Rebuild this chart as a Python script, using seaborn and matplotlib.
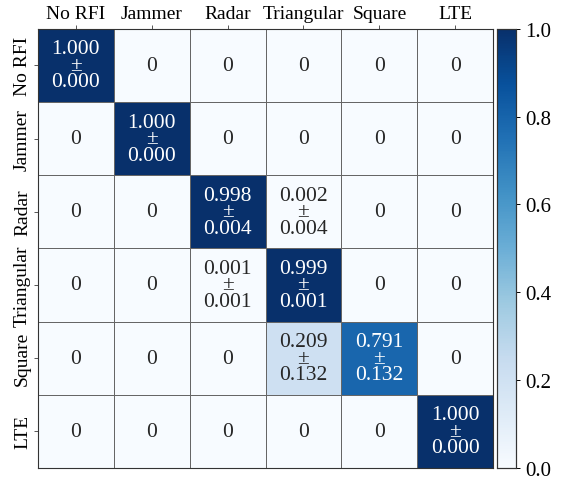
import numpy as np
import pandas as pd
import seaborn as sns
import matplotlib.pyplot as plt

classes = ["No RFI", "Jammer", "Radar", "Triangular", "Square", "LTE"]

# mean of normalized confusion matrix (rows = true, cols = predicted)
means = np.array([
    [1.000, 0, 0, 0, 0, 0],
    [0, 1.000, 0, 0, 0, 0],
    [0, 0, 0.998, 0.002, 0, 0],
    [0, 0, 0.001, 0.999, 0, 0],
    [0, 0, 0, 0.209, 0.791, 0],
    [0, 0, 0, 0, 0, 1.000],
])
stds = np.array([
    [0.000, 0, 0, 0, 0, 0],
    [0, 0.000, 0, 0, 0, 0],
    [0, 0, 0.004, 0.004, 0, 0],
    [0, 0, 0.001, 0.001, 0, 0],
    [0, 0, 0, 0.132, 0.132, 0],
    [0, 0, 0, 0, 0, 0.000],
])

labels = np.empty(means.shape, dtype=object)
for i in range(means.shape[0]):
    for j in range(means.shape[1]):
        if means[i, j] > 0:
            labels[i, j] = f"{means[i, j]:.3f}\n±\n{stds[i, j]:.3f}"
        else:
            labels[i, j] = "0"

df = pd.DataFrame(means, index=classes, columns=classes)

plt.rcParams['font.family'] = ['Liberation Serif', 'DejaVu Serif']
plt.rcParams['font.size'] = 14

fig = plt.figure(figsize=(5.65, 4.89), dpi=100)
ax = fig.add_axes([0.067, 0.041, 0.806, 0.898])
cax = fig.add_axes([0.880, 0.041, 0.033, 0.898])

sns.heatmap(df, ax=ax, cbar_ax=cax, cmap="Blues", vmin=0, vmax=1,
            annot=labels, fmt="", linewidths=0.7, linecolor="#666666",
            annot_kws={"fontsize": 15.5, "linespacing": 0.82})

ax.xaxis.tick_top()
ax.set_xticklabels(classes, rotation=0, fontsize=14)
ax.set_yticklabels(classes, rotation=90, va="center", fontsize=14)
ax.tick_params(length=3, width=0.7, pad=2, color="#555555")
for s in ax.spines.values():
    s.set_visible(True)
    s.set_color("#333333")
    s.set_linewidth(0.8)

cax.tick_params(labelsize=15, length=3, width=0.7)
cax.set_yticks([0, 0.2, 0.4, 0.6, 0.8, 1.0])
for s in cax.spines.values():
    s.set_visible(True)
    s.set_color("#333333")
    s.set_linewidth(0.8)

fig.savefig("out.png", dpi=100)
